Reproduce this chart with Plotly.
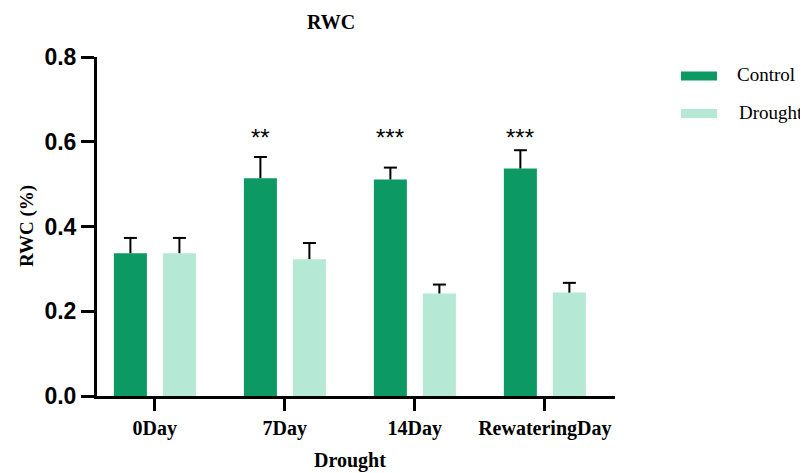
import plotly.graph_objects as go

categories = ["0Day", "7Day", "14Day", "RewateringDay"]
control = [0.337, 0.514, 0.511, 0.537]
control_err = [0.036, 0.050, 0.028, 0.043]
drought = [0.337, 0.323, 0.242, 0.244]
drought_err = [0.036, 0.038, 0.021, 0.023]
signif = ["", "**", "***", "***"]
sig_y = 0.61

CTRL = "#0c9963"
DRT = "#b6e8d6"
SERIF = "Liberation Serif, Times New Roman, serif"
SANS = "Liberation Sans, Arial, sans-serif"

xs = list(range(len(categories)))
BW = 0.254
OFF_C, OFF_D = -0.315, 0.062
CAP = 0.05

fig = go.Figure()
fig.add_trace(go.Bar(x=xs, y=control, name="Control", marker=dict(color=CTRL, line=dict(width=0)),
                     width=BW, offset=OFF_C))
fig.add_trace(go.Bar(x=xs, y=drought, name="Drought", marker=dict(color=DRT, line=dict(width=0)),
                     width=BW, offset=OFF_D))

# upward-only error bars
for vals, errs, off in [(control, control_err, OFF_C), (drought, drought_err, OFF_D)]:
    ex, ey = [], []
    for i, (v, e) in enumerate(zip(vals, errs)):
        c = i + off + BW / 2
        ex += [c, c, None, c - CAP, c + CAP, None]
        ey += [v, v + e, None, v + e, v + e, None]
    fig.add_trace(go.Scatter(x=ex, y=ey, mode="lines", line=dict(color="black", width=2),
                             hoverinfo="skip", showlegend=False))

for i, s in enumerate(signif):
    if s:
        fig.add_annotation(x=i + OFF_C + BW / 2, y=sig_y, text=s, showarrow=False,
                           font=dict(family=SANS, size=24, color="black"),
                           xanchor="center", yanchor="middle")

SH = 8  # page body offset
L, R, T, B = 97 - SH, 615 - SH, 57 - SH, 396 - SH
W, H = 808 - SH, 473 - SH
pw, ph = R - L, B - T

def px(x):
    return (x - SH - L) / pw

def py(y):
    return (B - (y - SH)) / ph

# legend drawn manually
for name, col, y0, y1, tx, ty in [("Control", CTRL, 71.5, 80.5, 735, 75),
                                   ("Drought", DRT, 109, 118, 737, 112.5)]:
    fig.add_shape(type="rect", xref="paper", yref="paper",
                  x0=px(681), x1=px(717), y0=py(y1), y1=py(y0),
                  fillcolor=col, line=dict(width=0))
    fig.add_annotation(xref="paper", yref="paper", x=px(tx), y=py(ty), text=name,
                       showarrow=False, xanchor="left", yanchor="middle",
                       font=dict(family=SERIF, size=19, color="black"))

fig.add_annotation(xref="paper", yref="paper", x=px(331), y=py(22), text="<b>RWC</b>",
                   showarrow=False, xanchor="center", yanchor="middle",
                   font=dict(family=SERIF, size=20, color="black"))
fig.add_annotation(xref="paper", yref="paper", x=px(27), y=py(226), text="<b>RWC (%)</b>",
                   showarrow=False, xanchor="center", yanchor="middle", textangle=-90,
                   font=dict(family=SERIF, size=19, color="black"))
fig.add_annotation(xref="paper", yref="paper", x=px(350), y=py(460), text="<b>Drought</b>",
                   showarrow=False, xanchor="center", yanchor="middle",
                   font=dict(family=SERIF, size=20, color="black"))

fig.update_layout(
    width=W, height=H,
    margin=dict(l=L, r=W - R, t=T, b=H - B),
    plot_bgcolor="white", paper_bgcolor="white",
    showlegend=False,
    barmode="overlay",
)
fig.update_xaxes(
    range=[-0.445, 3.54], tickvals=xs, ticktext=[f"<b>{c}</b>" for c in categories],
    showline=True, linecolor="black", linewidth=3, showgrid=False, zeroline=False,
    ticks="outside", ticklen=12, tickwidth=3, tickcolor="black",
    tickfont=dict(family=SERIF, size=20, color="black"),
)
fig.update_yaxes(
    range=[0, 0.8], tickvals=[0, 0.2, 0.4, 0.6, 0.8],
    ticktext=["<b>0.0</b>", "<b>0.2</b>", "<b>0.4</b>", "<b>0.6</b>", "<b>0.8</b>"],
    showline=True, linecolor="black", linewidth=3, showgrid=False, zeroline=False,
    ticks="outside", ticklen=13, tickwidth=3, tickcolor="black",
    tickfont=dict(family=SANS, size=23, color="black"),
)

fig.write_html("out.html")
